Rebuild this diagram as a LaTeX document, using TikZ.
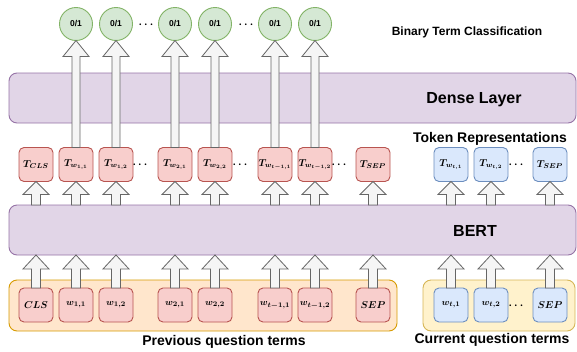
\documentclass[tikz,border=0pt]{standalone}
\usepackage{fontspec}
\usepackage{amsmath}
\setmainfont{Liberation Sans}
\usetikzlibrary{calc}

\definecolor{redfill}{HTML}{F8CECC}
\definecolor{redline}{HTML}{B85450}
\definecolor{bluefill}{HTML}{DAE8FC}
\definecolor{blueline}{HTML}{6C8EBF}
\definecolor{purplefill}{HTML}{E1D5E7}
\definecolor{purpleline}{HTML}{9673A6}
\definecolor{greenfill}{HTML}{D5E8D4}
\definecolor{greenline}{HTML}{82B366}
\definecolor{orangefill}{HTML}{FFE6CC}
\definecolor{orangeline}{HTML}{D79B00}
\definecolor{yellowfill}{HTML}{FFF2CC}
\definecolor{yellowline}{HTML}{D6B656}
\definecolor{arrowfill}{HTML}{F5F5F5}
\definecolor{arrowline}{HTML}{666666}

% vertical block arrow: start, end, half shaft width, half head width, head length
\newcommand\flexup[5]{%
  \draw[blockarrow] let \p1=(#1), \p2=(#2) in
    (\x1-#3pt,\y1) -- (\x1-#3pt,\y2-#5pt) -- (\x1-#4pt,\y2-#5pt) -- (\x1,\y2)
    -- (\x1+#4pt,\y2-#5pt) -- (\x1+#3pt,\y2-#5pt) -- (\x1+#3pt,\y1) -- cycle;}

\begin{document}
\begin{tikzpicture}[x=1pt,y=-1pt,
  every node/.style={inner sep=0pt, outer sep=0pt},
  container/.style={draw=#1line, fill=#1fill, line width=0.9pt, rounded corners=8pt},
  layer/.style={draw=purpleline, fill=purplefill, line width=0.9pt, rounded corners=8pt,
    minimum width=567pt, minimum height=50pt},
  tokbox/.style={draw=#1line, fill=#1fill, line width=0.9pt, rounded corners=5pt,
    minimum width=34pt, minimum height=34pt, font=\fontsize{10}{10}\selectfont\boldmath},
  termbox/.style={tokbox=#1, font=\fontsize{9.5}{9.5}\selectfont\boldmath},
  outcircle/.style={circle, draw=greenline, fill=greenfill, line width=0.9pt,
    minimum size=33pt, font=\fontsize{8.5}{8.5}\selectfont\bfseries},
  blockarrow/.style={draw=arrowline, fill=arrowfill, line width=0.8pt, line join=miter},
  dots/.style={font=\fontsize{11}{11}\selectfont\boldmath},
  caption/.style={font=\fontsize{#1}{#1}\selectfont\bfseries},
]
\useasboundingbox (0,0) rectangle (577,351);

% input containers
\draw[container=orange] (9,280) rectangle (397,331);
\draw[container=yellow] (423,280) rectangle (575,331);

% layers
\node[layer] (dense) at (292.5,98) {};
\node[layer] (bert) at (292.5,230) {};
\node[caption=16] (densetext) at (474,100) {Dense Layer};
\node[caption=16] (berttext) at (475,231) {BERT};

% input term boxes
\node[tokbox=red] (icls) at (36,305) {$CLS$};
\node[termbox=red] (i11) at (76,305) {$w_{1,1}$};
\node[termbox=red] (i12) at (116,305) {$w_{1,2}$};
\node[termbox=red] (i21) at (175,305) {$w_{2,1}$};
\node[termbox=red] (i22) at (215,305) {$w_{2,2}$};
\node[termbox=red] (ia) at (275,305) {$w_{t-1,1}$};
\node[termbox=red] (ib) at (315,305) {$w_{t-1,2}$};
\node[tokbox=red] (isep) at (373,305) {$SEP$};
\node[termbox=blue] (ic1) at (451,305) {$w_{t,1}$};
\node[termbox=blue] (ic2) at (491,305) {$w_{t,2}$};
\node[tokbox=blue] (icsep) at (550,305) {$SEP$};
\node[dots] (idots) at (517,306) {$\cdots$};

% token representation boxes
\node[tokbox=red] (tcls) at (36,164.5) {$T_{CLS}$};
\node[tokbox=red] (t11) at (76,164.5) {$T_{w_{1,1}}$};
\node[tokbox=red] (t12) at (116,164.5) {$T_{w_{1,2}}$};
\node[tokbox=red] (t21) at (175,164.5) {$T_{w_{2,1}}$};
\node[tokbox=red] (t22) at (215,164.5) {$T_{w_{2,2}}$};
\node[tokbox=red] (ta) at (275,164.5) {$T_{w_{t-1,1}}$};
\node[tokbox=red] (tb) at (315,164.5) {$T_{w_{t-1,2}}$};
\node[tokbox=red] (tsep) at (373,164.5) {$T_{SEP}$};
\node[tokbox=blue] (tc1) at (451,164.5) {$T_{w_{t,1}}$};
\node[tokbox=blue] (tc2) at (491,164.5) {$T_{w_{t,2}}$};
\node[tokbox=blue] (tcsep) at (550,164.5) {$T_{SEP}$};
\node[dots] (tdots1) at (141,165) {$\cdots$};
\node[dots] (tdots2) at (241,165) {$\cdots$};
\node[dots] (tdots3) at (340,165) {$\cdots$};
\node[dots] (tdots4) at (517,165) {$\cdots$};

% binary outputs
\node[outcircle] (o11) at (76,24) {0/1};
\node[outcircle] (o12) at (116,24) {0/1};
\node[outcircle] (o21) at (175,24) {0/1};
\node[outcircle] (o22) at (215,24) {0/1};
\node[outcircle] (oa) at (275,24) {0/1};
\node[outcircle] (ob) at (315,24) {0/1};
\node[dots] (odots1) at (147,25) {$\cdots$};
\node[dots] (odots2) at (247,25) {$\cdots$};

% inputs into BERT
\foreach \nm in {icls,i11,i12,i21,i22,ia,ib,isep,ic1,ic2,icsep}
  \flexup{\nm.north}{\nm.north |- bert.south}{4.5}{13}{14};

% BERT into token representations
\foreach \nm in {tcls,t11,t12,t21,t22,ta,tb,tsep,tc1,tc2,tcsep}
  \flexup{\nm.south |- bert.north}{\nm.south}{4.5}{13}{13};

% token representations through the dense layer to the outputs
\foreach \tk/\oc in {t11/o11,t12/o12,t21/o21,t22/o22,ta/oa,tb/ob}
  \flexup{\tk.north}{\oc.south}{4}{13}{16};

% captions
\node[caption=12] (bintext) at (467,32) {Binary Term Classification};
\node[caption=14] (toktext) at (490,139) {Token Representations};
\node[caption=14] (prevtext) at (224,342) {Previous question terms};
\node[caption=14] (curtext) at (492,340) {Current question terms};
\end{tikzpicture}
\end{document}
